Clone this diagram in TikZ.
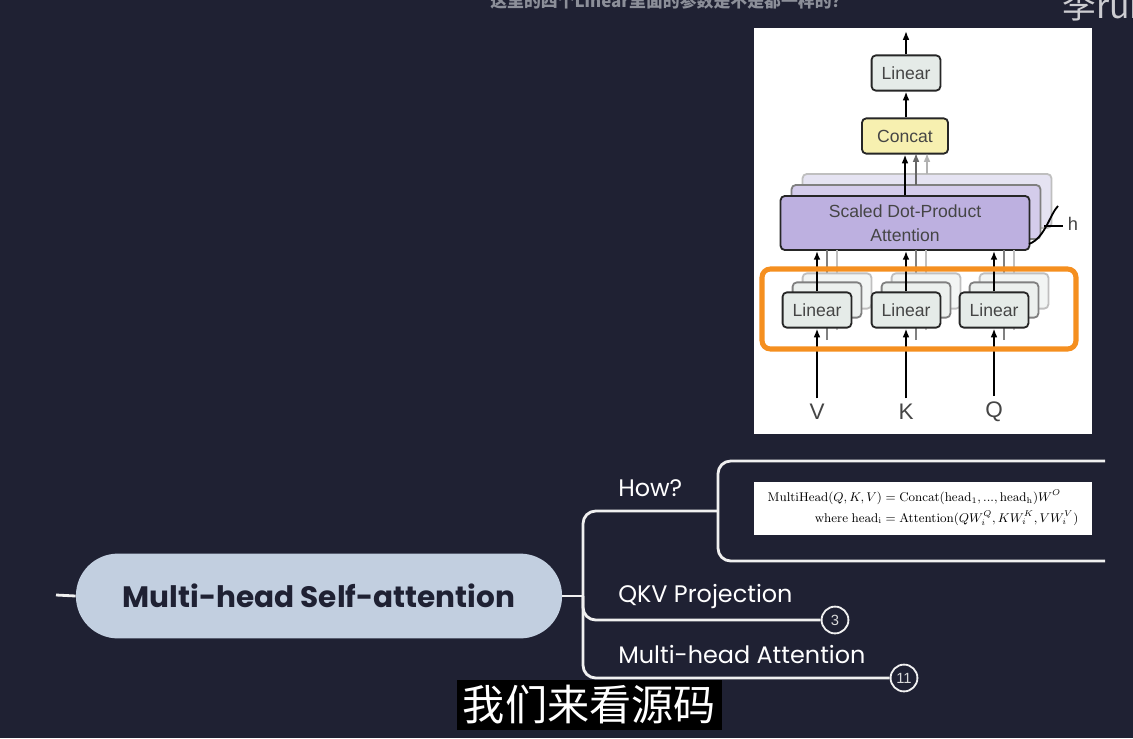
\documentclass[tikz,border=0pt]{standalone}
\usepackage{amsmath}
\usepackage[no-math]{fontspec}
\setmainfont{Liberation Sans}
\newfontfamily\popfont{Poppins}
\newfontfamily\cjkfont{Noto Sans CJK SC}
\usetikzlibrary{arrows.meta,positioning}
\definecolor{fondo}{rgb}{0.12,0.13,0.20}
\definecolor{pillblue}{rgb}{0.76,0.81,0.88}
\definecolor{qgray}{rgb}{0.55,0.56,0.60}
\definecolor{wmgray}{rgb}{0.80,0.80,0.82}
\definecolor{lingray}{rgb}{0.90,0.92,0.91}
\definecolor{concatyellow}{rgb}{0.97,0.94,0.69}
\definecolor{sdpapurple}{rgb}{0.74,0.69,0.88}
\definecolor{sdpapurpleb}{rgb}{0.83,0.80,0.92}
\definecolor{sdpapurplec}{rgb}{0.90,0.89,0.95}
\definecolor{marcoorange}{rgb}{0.96,0.56,0.12}
\definecolor{textgray}{rgb}{0.27,0.27,0.27}
\tikzset{
  caja/.style={
    rounded corners=3pt,
    draw=black!85,
    line width=1.3pt,
    fill=lingray,
    text=textgray,
    inner sep=0pt,
    minimum width=1.72cm,
    minimum height=.88cm,
    font=\fontsize{12.5}{13}\selectfont
  },
  sdpa/.style={
    caja,
    fill=sdpapurple,
    align=center,
    minimum width=6.22cm,
    minimum height=1.35cm,
    font=\fontsize{12.5}{17}\selectfont
  },
  entrada/.style={
    text=textgray,
    inner sep=0pt,
    font=\fontsize{16}{16}\selectfont
  },
  flecha/.style={
    -{Latex[length=2.2mm,width=1.7mm]},
    line width=1.2pt
  },
  rama/.style={
    draw=white!94!black,
    line width=2pt,
    rounded corners=9pt
  },
  etiqueta/.style={
    anchor=west,
    text=white,
    inner sep=0pt,
    font=\popfont\fontsize{17}{17}\selectfont
  },
  contador/.style={
    circle,
    draw=white!94!black,
    line width=1.3pt,
    fill=fondo,
    text=white!85!black,
    minimum size=.67cm,
    inner sep=0pt,
    font=\fontsize{10.5}{10.5}\selectfont
  },
  raiz/.style={
    rounded corners=1.05cm,
    fill=pillblue,
    text=fondo,
    minimum width=12.15cm,
    minimum height=2.12cm,
    font=\popfont\bfseries\fontsize{21}{21}\selectfont
  }
}

\begin{document}
\begin{tikzpicture}[x=0.025cm,y=-0.025cm]
\fill[fondo] (0,0) rectangle (1133,738);
\useasboundingbox (0,0) rectangle (1133,738);

\node[anchor=base west,inner sep=0pt,text=qgray,font=\cjkfont\bfseries\fontsize{12}{12}\selectfont] (pregunta) at (490,7) {这里的四个Linear里面的参数是不是都一样的？};
\node[anchor=base west,inner sep=0pt,text=wmgray,font=\cjkfont\fontsize{24}{24}\selectfont] (marca) at (1062,18) {李run};

% figura del paper
\node[fill=white,inner sep=0pt,minimum width=8.45cm,minimum height=10.15cm] (panel) at (923,231) {};

\node[sdpa,fill=sdpapurplec,draw=black!25] (sdpac) at (927,201) {};
\node[sdpa,fill=sdpapurpleb,draw=black!50] (sdpab) at (916,212) {};
\node[sdpa] (sdpa) at (905,223) {Scaled Dot-Product\\Attention};

\foreach \x/\n in {817/V,906/K,994/Q}{
  \draw[black!25,line width=1.1pt] (\x+20,330) -- (\x+20,250);
  \draw[black!50,line width=1.1pt] (\x+10,340) -- (\x+10,250);
  \node[caja,fill=lingray!50,draw=black!25] (lin\n c) at (\x+20,291) {};
  \node[caja,fill=lingray!75,draw=black!50] (lin\n b) at (\x+10,300) {};
  \node[caja] (lin\n) at (\x,310) {Linear};
  \node[entrada] (in\n) at (\x,412) {\n};
  \draw[flecha] ([yshift=4pt]in\n.north) -- (lin\n.south);
  \draw[flecha] (lin\n.north) -- (lin\n.north |- sdpa.south);
}

\node[caja,fill=concatyellow,minimum width=2.15cm] (concat) at (905,136) {Concat};
\node[caja] (lintop) at (906,73) {Linear};
\coordinate (salida) at (906,31);

\draw[flecha,black!30] (927,174) -- (927,153);
\draw[flecha,black!60] (916,185) -- (916,153);
\draw[flecha] (sdpa.north -| concat) -- (concat.south);
\draw[flecha] (concat.north -| lintop) -- (lintop.south);
\draw[flecha] (lintop.north) -- (salida);

\draw[line width=1.3pt] (1029,244) .. controls (1045,238) and (1050,214) .. (1058,206);
\draw[line width=1.3pt] (1044,226) -- (1063,226);
\node[entrada,font=\fontsize{13}{13}\selectfont] (hcount) at (1073,224) {h};

\draw[marcoorange,line width=3.6pt,rounded corners=6pt] (762,269) rectangle (1076,349);

% mapa mental
\node[raiz] (mhsa) at (319,596) {Multi-head Self-attention};
\coordinate (stub) at (56,595);
\coordinate (hub) at (583,596);
\coordinate (brk) at (718,511);
\coordinate (brtop) at (1105,461);
\coordinate (brbot) at (1105,561);

\node[fill=white,inner sep=0pt,minimum width=8.45cm,minimum height=1.33cm,font=\fontsize{9}{11}\selectfont] (formula) at (923,508.5)
  {$\begin{aligned}\mathrm{MultiHead}(Q,K,V) &= \mathrm{Concat}(\mathrm{head}_1,...,\mathrm{head}_{\mathrm{h}})W^O\\[-1pt]
  \mathrm{where}\ \mathrm{head}_{\mathrm{i}} &= \mathrm{Attention}(QW^Q_i,KW^K_i,VW^V_i)\end{aligned}$};

\node[contador] (n3) at (835,620) {3};
\node[contador] (n11) at (904,678) {11};

\draw[rama] (stub) -- (mhsa.west);
\draw[rama] (mhsa.east) -- (hub);
\draw[rama] (hub) |- (brk);
\draw[rama] (hub) |- (n3);
\draw[rama] (hub) |- (n11);
\draw[rama] (brtop) -| (brk) |- (brbot);

\node[etiqueta] (how) at (618,488) {How?};
\node[etiqueta] (qkv) at (618,597) {QKV Projection};
\node[etiqueta] (mha) at (618,655) {Multi-head Attention};

\node[fill=black,text=white,inner sep=0pt,minimum width=6.62cm,minimum height=1.25cm,font=\cjkfont\fontsize{30}{30}\selectfont] (subtitulo) at (589.5,705) {我们来看源码};
\end{tikzpicture}
\end{document}
